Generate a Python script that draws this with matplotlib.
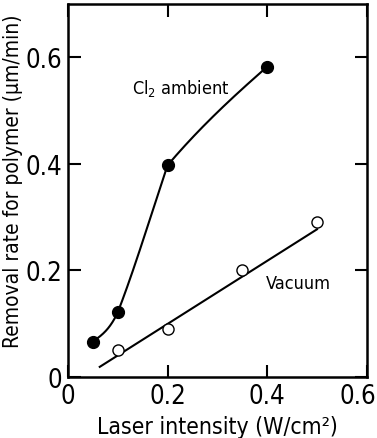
import matplotlib
matplotlib.use("Agg")
import matplotlib.pyplot as plt
import matplotlib.transforms as mtransforms
import numpy as np

# data
cl2_x = [0.05, 0.1, 0.2, 0.4]
cl2_y = [0.066, 0.121, 0.397, 0.582]
vac_x = [0.1, 0.2, 0.35, 0.5]
vac_y = [0.05, 0.09, 0.2, 0.29]
# straight line drawn through the vacuum points (end points)
vac_line_x = [0.064, 0.5]
vac_line_y = [0.019, 0.277]
x_ticks = [0, 0.2, 0.4, 0.6]
x_tick_labels = ["0", "0.2", "0.4", "0.6"]
y_ticks = [0, 0.2, 0.4, 0.6]
y_tick_labels = ["0", "0.2", "0.4", "0.6"]

# hand-drawn look of the Cl2 curve: (slope leaving, slope arriving) per segment
cl2_slopes = [(0.7, 2.0), (2.4, 2.8), (1.1, 0.82)]


def hermite_curve(x, y, slopes, n=80):
    xs_all, ys_all = [], []
    for k in range(len(x) - 1):
        h = x[k + 1] - x[k]
        t = np.linspace(0, 1, n)
        m0, m1 = slopes[k]
        yy = ((2 * t**3 - 3 * t**2 + 1) * y[k] + (t**3 - 2 * t**2 + t) * h * m0
              + (-2 * t**3 + 3 * t**2) * y[k + 1] + (t**3 - t**2) * h * m1)
        xs_all.append(x[k] + t * h)
        ys_all.append(yy)
    return np.concatenate(xs_all), np.concatenate(ys_all)


plt.rcParams["font.family"] = ["DejaVu Sans"]
plt.rcParams["font.stretch"] = "condensed"
plt.rcParams["mathtext.fontset"] = "dejavusans"

fig = plt.figure(figsize=(3.77, 4.39), dpi=100)
ax = fig.add_axes([0.180, 0.139, 0.793, 0.850])

cx, cy = hermite_curve(cl2_x, cl2_y, cl2_slopes)
ax.plot(cx, cy, color="black", lw=1.5)
ax.plot(cl2_x, cl2_y, "o", color="black", ms=8.5, zorder=3)

ax.plot(vac_line_x, vac_line_y, color="black", lw=1.5)
ax.plot(vac_x, vac_y, "o", mfc="white", mec="black", mew=1.0, ms=8, zorder=3)

ax.text(0.227, 0.543, "Cl$_2$ ambient", fontsize=13, ha="center", va="center")
ax.text(0.462, 0.177, "Vacuum", fontsize=13, ha="center", va="center")

ax.set_xlim(0, 0.6)
ax.set_ylim(0, 0.7)
ax.set_xticks(x_ticks, x_tick_labels)
ax.set_yticks(y_ticks, y_tick_labels)
ax.tick_params(direction="in", length=9, width=1.5, labelsize=18.5,
               top=True, right=True, pad=4)
for s in ax.spines.values():
    s.set_linewidth(1.8)

# last x tick label sits a little left of its tick, as in the original
lab = ax.get_xticklabels()[-1]
lab.set_transform(lab.get_transform()
                  + mtransforms.ScaledTranslation(-9 / 100, 0, fig.dpi_scale_trans))

ax.set_xlabel("Laser intensity (W/cm²)", fontsize=16.5, labelpad=5)
ax.set_ylabel("Removal rate for polymer (μm/min)", fontsize=15)
ax.yaxis.set_label_coords(-0.150, 0.528)

fig.savefig("out.png", dpi=100)
